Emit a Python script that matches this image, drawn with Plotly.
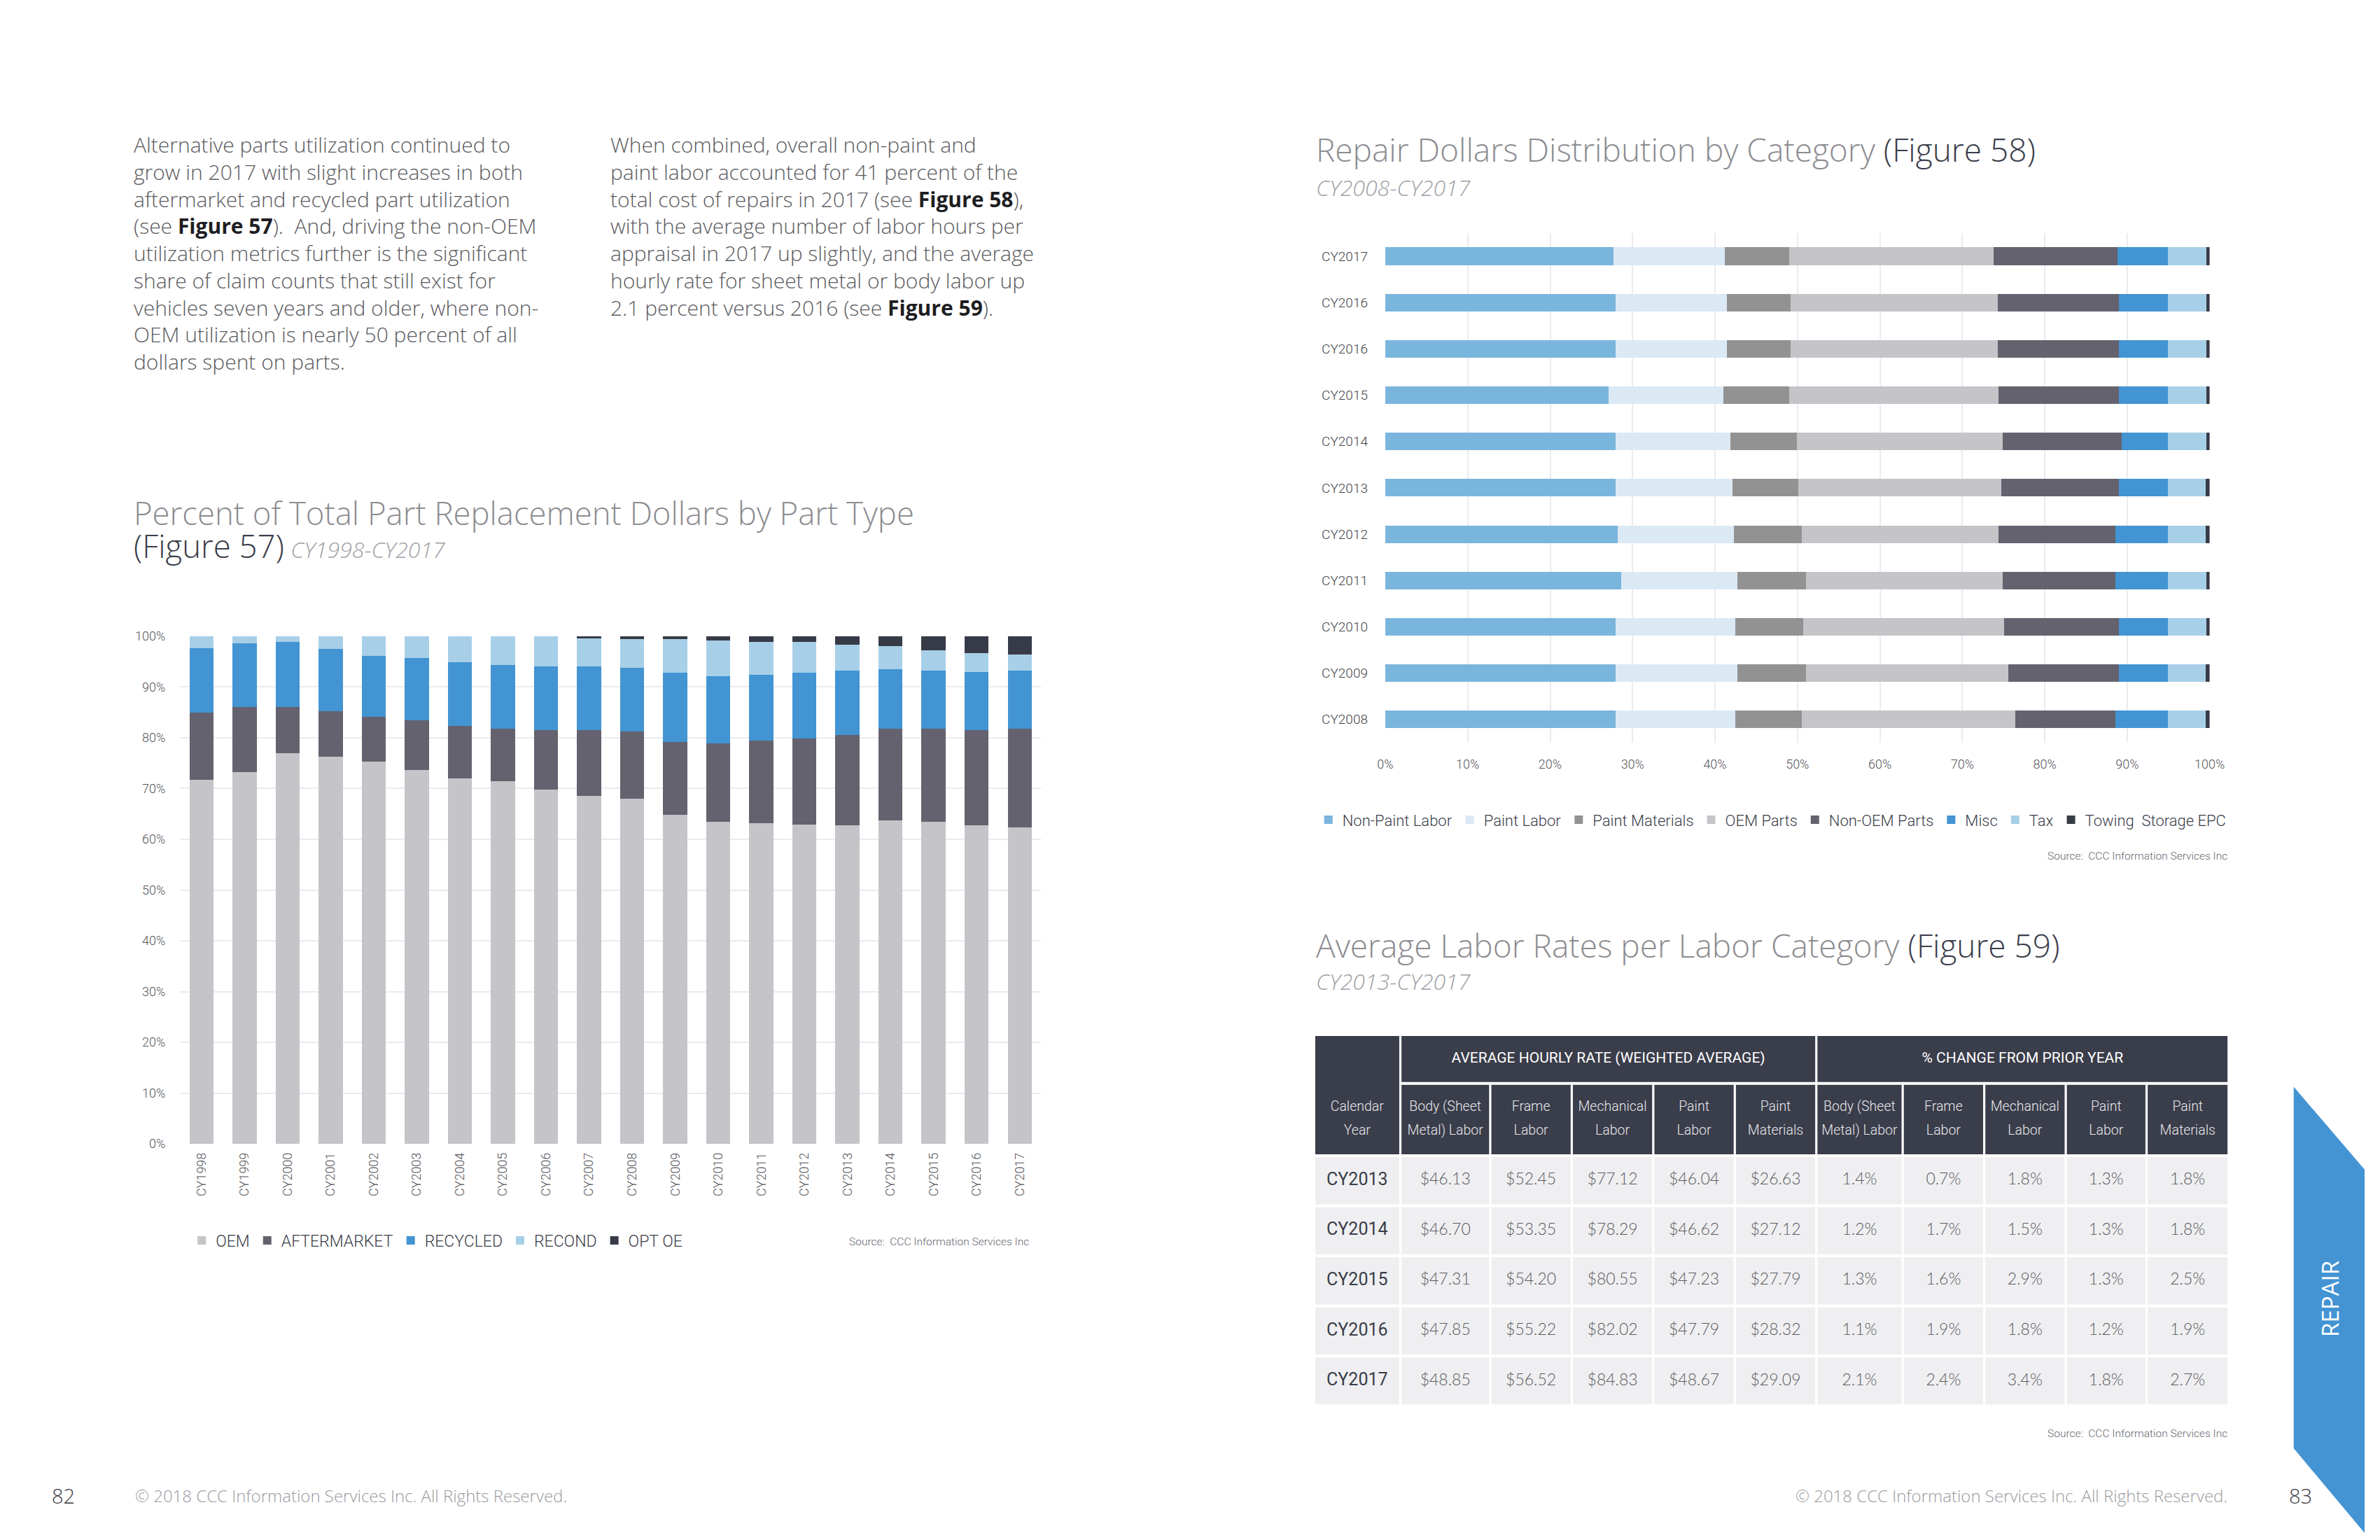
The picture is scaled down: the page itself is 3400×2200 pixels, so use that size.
import plotly.graph_objects as go

W, H = 3400, 2200
NARROW = "Roboto, Liberation Sans, sans-serif"
SANS = "Open Sans, Lato, sans-serif"
LATO = "Lato, Open Sans, sans-serif"
DARK = "#3a3d4a"

# ---------------- Figure 57 data ----------------
years57 = ["CY1998", "CY1999", "CY2000", "CY2001", "CY2002", "CY2003", "CY2004",
           "CY2005", "CY2006", "CY2007", "CY2008", "CY2009", "CY2010", "CY2011",
           "CY2012", "CY2013", "CY2014", "CY2015", "CY2016", "CY2017"]
oem = [71.7, 73.3, 77.0, 76.3, 75.3, 73.6, 72.0, 71.5, 69.8, 68.5,
       68.0, 64.8, 63.4, 63.2, 62.9, 62.7, 63.7, 63.4, 62.7, 62.4]
aftermarket = [13.3, 12.8, 9.1, 9.0, 8.9, 9.8, 10.4, 10.3, 11.7, 13.0,
               13.3, 14.4, 15.5, 16.3, 16.9, 17.8, 18.1, 18.4, 18.8, 19.4]
recycled = [12.7, 12.5, 12.8, 12.2, 12.0, 12.3, 12.5, 12.5, 12.6, 12.6,
            12.5, 13.6, 13.2, 12.9, 13.0, 12.7, 11.7, 11.4, 11.4, 11.4]
recond = [2.3, 1.4, 1.1, 2.5, 3.8, 4.3, 5.1, 5.7, 5.9, 5.5,
          5.6, 6.6, 7.0, 6.5, 6.1, 5.2, 4.6, 4.1, 3.8, 3.2]
opt_oe = [0, 0, 0, 0, 0, 0, 0, 0, 0, 0.4,
          0.6, 0.6, 0.9, 1.1, 1.1, 1.6, 1.9, 2.7, 3.3, 3.6]
parts57 = ["OEM", "AFTERMARKET", "RECYCLED", "RECOND", "OPT OE"]
colors57 = ["#c5c4c9", "#64626e", "#4294d2", "#a8cfe8", "#373b47"]
y57_ticks = [0, 10, 20, 30, 40, 50, 60, 70, 80, 90, 100]
y57_labels = ["0%", "10%", "20%", "30%", "40%", "50%", "60%", "70%", "80%", "90%", "100%"]

# ---------------- Figure 58 data ----------------
rows58 = ["CY2017", "CY2016", "CY2016", "CY2015", "CY2014", "CY2013",
          "CY2012", "CY2011", "CY2010", "CY2009", "CY2008"]
non_paint_labor = [27.7, 27.9, 27.9, 27.1, 27.9, 27.9, 28.2, 28.6, 27.9, 27.9, 27.9]
paint_labor = [13.5, 13.5, 13.5, 13.9, 14.0, 14.2, 14.1, 14.1, 14.6, 14.8, 14.6]
paint_materials = [7.8, 7.8, 7.8, 8.0, 8.0, 8.0, 8.2, 8.3, 8.2, 8.3, 8.0]
oem_parts = [24.8, 25.1, 25.1, 25.4, 25.0, 24.6, 23.9, 23.9, 24.4, 24.6, 25.9]
non_oem_parts = [15.0, 14.7, 14.7, 14.6, 14.4, 14.3, 14.2, 13.7, 13.9, 13.4, 12.2]
misc = [6.1, 5.9, 5.9, 5.9, 5.6, 5.9, 6.3, 6.3, 5.9, 5.9, 6.3]
tax = [4.7, 4.7, 4.7, 4.7, 4.7, 4.6, 4.6, 4.7, 4.7, 4.6, 4.6]
towing = [0.4, 0.4, 0.4, 0.4, 0.4, 0.5, 0.5, 0.4, 0.4, 0.5, 0.5]
cats58 = ["Non-Paint Labor", "Paint Labor", "Paint Materials", "OEM Parts",
          "Non-OEM Parts", "Misc", "Tax", "Towing  Storage EPC"]
colors58 = ["#7ab5dd", "#dbe9f5", "#929292", "#c5c4c9", "#64626e", "#4294d2", "#a8cfe8", "#373b47"]
x58_ticks = [0, 10, 20, 30, 40, 50, 60, 70, 80, 90, 100]
x58_labels = ["0%", "10%", "20%", "30%", "40%", "50%", "60%", "70%", "80%", "90%", "100%"]

# ---------------- Figure 59 data ----------------
years59 = ["CY2013", "CY2014", "CY2015", "CY2016", "CY2017"]
body_rate = [46.13, 46.70, 47.31, 47.85, 48.85]
frame_rate = [52.45, 53.35, 54.20, 55.22, 56.52]
mech_rate = [77.12, 78.29, 80.55, 82.02, 84.83]
paint_rate = [46.04, 46.62, 47.23, 47.79, 48.67]
paintmat_rate = [26.63, 27.12, 27.79, 28.32, 29.09]
body_chg = [1.4, 1.2, 1.3, 1.1, 2.1]
frame_chg = [0.7, 1.7, 1.6, 1.9, 2.4]
mech_chg = [1.8, 1.5, 2.9, 1.8, 3.4]
paint_chg = [1.3, 1.3, 1.3, 1.2, 1.8]
paintmat_chg = [1.8, 1.8, 2.5, 1.9, 2.7]
group_headers = ["AVERAGE HOURLY RATE (WEIGHTED AVERAGE)", "% CHANGE FROM PRIOR YEAR"]
col_head_1 = ["Calendar", "Body (Sheet", "Frame", "Mechanical", "Paint", "Paint",
              "Body (Sheet", "Frame", "Mechanical", "Paint", "Paint"]
col_head_2 = ["Year", "Metal) Labor", "Labor", "Labor", "Labor", "Materials",
              "Metal) Labor", "Labor", "Labor", "Labor", "Materials"]


# ---------------- page pixel -> paper (small correction for the photo framing) ----------------
def px(x):
    return (x - 10 * (1 - x / W)) / W


def py(y):
    return 1 - (y - 9 * (1 - 0.7 * y / H)) / H


fig = go.Figure()

for name, vals, col in zip(parts57, [oem, aftermarket, recycled, recond, opt_oe], colors57):
    fig.add_trace(go.Bar(x=years57, y=vals, name=name, width=0.56,
                         marker=dict(color=col, line=dict(width=0)),
                         xaxis="x", yaxis="y", legend="legend", hoverinfo="skip"))

idx58 = list(range(len(rows58)))
for name, vals, col in zip(cats58, [non_paint_labor, paint_labor, paint_materials, oem_parts,
                                    non_oem_parts, misc, tax, towing], colors58):
    fig.add_trace(go.Bar(x=vals, y=idx58, name=name, orientation="h", width=0.38,
                         marker=dict(color=col, line=dict(width=0)),
                         xaxis="x2", yaxis="y2", legend="legend2", hoverinfo="skip"))

# ---------------- Figure 59 table on its own axes ----------------
col_w = [121, 126, 114, 114, 114, 114, 121, 114, 114, 113, 115]
gap = 3.2
row_h = [66, 100, 68, 68, 68, 68, 68]
rgap = 4
col_l = []
acc = 0
for w in col_w:
    col_l.append(acc)
    acc += w + gap
tbl_w = acc - gap
row_t = []
acc = 0
for h in row_h:
    row_t.append(acc)
    acc += h + rgap
tbl_h = acc - rgap
col_c = [l + w / 2 for l, w in zip(col_l, col_w)]
row_c = [t + h / 2 for t, h in zip(row_t, row_h)]

shapes = []


def cell(x0, x1, y0, y1, color):
    shapes.append(dict(type="rect", xref="x3", yref="y3", x0=x0, x1=x1, y0=y0, y1=y1,
                       fillcolor=color, line=dict(width=0), layer="below"))


cell(col_l[0], col_l[0] + col_w[0], row_t[0], row_t[1] + row_h[1], DARK)
cell(col_l[1], col_l[5] + col_w[5], row_t[0], row_t[0] + row_h[0], DARK)
cell(col_l[6], col_l[10] + col_w[10], row_t[0], row_t[0] + row_h[0], DARK)
for c in range(1, 11):
    cell(col_l[c], col_l[c] + col_w[c], row_t[1], row_t[1] + row_h[1], DARK)
for r in range(2, 7):
    for c in range(11):
        cell(col_l[c], col_l[c] + col_w[c], row_t[r], row_t[r] + row_h[r], "#efeff1")

fig.add_trace(go.Scatter(
    x=[(col_l[1] + col_l[5] + col_w[5]) / 2, (col_l[6] + col_l[10] + col_w[10]) / 2],
    y=[row_c[0], row_c[0]], mode="text", text=group_headers,
    textfont=dict(family=NARROW, size=21, color="white"),
    xaxis="x3", yaxis="y3", showlegend=False, hoverinfo="skip"))
fig.add_trace(go.Scatter(x=col_c, y=[row_c[1] - 17] * 11, mode="text", text=col_head_1,
                         textfont=dict(family=NARROW, size=19.5, color="#e8e8ec", weight=300),
                         xaxis="x3", yaxis="y3", showlegend=False, hoverinfo="skip"))
fig.add_trace(go.Scatter(x=col_c, y=[row_c[1] + 17] * 11, mode="text", text=col_head_2,
                         textfont=dict(family=NARROW, size=19.5, color="#e8e8ec", weight=300),
                         xaxis="x3", yaxis="y3", showlegend=False, hoverinfo="skip"))
fig.add_trace(go.Scatter(x=[col_c[0]] * 5, y=row_c[2:], mode="text", text=years59,
                         textfont=dict(family=NARROW, size=25, color=DARK, weight=400),
                         xaxis="x3", yaxis="y3", showlegend=False, hoverinfo="skip"))
rate_cols = [body_rate, frame_rate, mech_rate, paint_rate, paintmat_rate]
chg_cols = [body_chg, frame_chg, mech_chg, paint_chg, paintmat_chg]
vx, vy, vt = [], [], []
for ci, vals in enumerate(rate_cols):
    for ri, v in enumerate(vals):
        vx.append(col_c[1 + ci]); vy.append(row_c[2 + ri]); vt.append(f"${v:.2f}")
for ci, vals in enumerate(chg_cols):
    for ri, v in enumerate(vals):
        vx.append(col_c[6 + ci]); vy.append(row_c[2 + ri]); vt.append(f"{v:.1f}%")
fig.add_trace(go.Scatter(x=vx, y=vy, mode="text", text=vt,
                         textfont=dict(family=LATO, size=23, color="#5a5a5e", weight=300),
                         xaxis="x3", yaxis="y3", showlegend=False, hoverinfo="skip"))

# blue side tab, running off the right and bottom page edges
shapes.append(dict(type="path", xref="paper", yref="paper",
                   path=f"M {px(3298)} {py(1561)} L 1 {py(1680)} L 1 0 "
                        f"L {px(3298)} {py(2081)} Z",
                   fillcolor="#4494d3", line=dict(width=0), layer="below"))

# ---------------- annotations ----------------
ann = []


def txt(x, y, text, size, color, family=SANS, weight=300, xanchor="left", angle=0):
    ann.append(dict(x=px(x), y=py(y), xref="paper", yref="paper", text=text, showarrow=False,
                    xanchor=xanchor, yanchor="middle", textangle=angle, borderpad=0,
                    align="left", font=dict(family=family, size=size, color=color, weight=weight)))


BODY = "#5a5a5e"
B = "<span style='color:#1e1e22'><b>{}</b></span>"
col1_lines = [
    "Alternative parts utilization continued to",
    "grow in 2017 with slight increases in both",
    "aftermarket and recycled part utilization",
    "(see " + B.format("Figure 57") + ").\u00a0 And, driving the non-OEM",
    "utilization metrics further is the significant",
    "share of claim counts that still exist for",
    "vehicles seven years and older, where non-",
    "OEM utilization is nearly 50 percent of all",
    "dollars spent on parts.",
]
col2_lines = [
    "When combined, overall non-paint and",
    "paint labor accounted for 41 percent of the",
    "total cost of repairs in 2017 (see " + B.format("Figure 58") + "),",
    "with the average number of labor hours per",
    "appraisal in 2017 up slightly, and the average",
    "hourly rate for sheet metal or body labor up",
    "2.1 percent versus 2016 (see " + B.format("Figure 59") + ").",
]
for i, line in enumerate(col1_lines):
    txt(189, 206 + 39 * i, line, 30, BODY)
for i, line in enumerate(col2_lines):
    txt(875, 206 + 39 * i, line, 30, BODY)

TITLE_G = "#8c8c91"
SUB = "<span style='font-size:32px;color:#a0a0a5'><i>{}</i></span>"
FIG = "<span style='color:#3a3d4a'>{}</span>"
BIG = "<span style='font-size:45.5px'>{}</span>"
# base size 36 gives the 47px line pitch of the two-line title
txt(189, 759, BIG.format("Percent of Total Part Replacement Dollars by Part Type") + "<br>"
    + BIG.format(FIG.format("(Figure 57)")) + " " + SUB.format("CY1998-CY2017"), 36, TITLE_G)
txt(1890, 212, "Repair Dollars Distribution by Category " + FIG.format("(Figure 58)"), 46, TITLE_G)
txt(1890, 267, SUB.format("CY2008-CY2017"), 32, TITLE_G)
txt(1890, 1357, "Average Labor Rates per Labor Category " + FIG.format("(Figure 59)"), 46, TITLE_G)
txt(1890, 1409, SUB.format("CY2013-CY2017"), 32, TITLE_G)

SRC = "Source:\u00a0 CCC Information Services Inc"
txt(1479, 1784, SRC, 15.5, "#666670", family=NARROW, weight=300, xanchor="right")
txt(3204, 1229, SRC, 15.5, "#666670", family=NARROW, weight=300, xanchor="right")
txt(3204, 2060, SRC, 15.5, "#666670", family=NARROW, weight=300, xanchor="right")

COPY = "\u00a9 2018 CCC Information Services Inc. All Rights Reserved."
txt(89, 2149, "82", 29, "#3a3a40", xanchor="center")
txt(191, 2149, COPY, 24, "#9a9a9f")
txt(3204, 2149, COPY, 24, "#9a9a9f", xanchor="right")
txt(3308, 2149, "83", 29, "#3a3a40", xanchor="center")
txt(3350, 1866, "REPAIR", 33, "white", weight=400, xanchor="center", angle=-90)

# ---------------- layout ----------------
TICK = dict(family=NARROW, size=18, color="#555559", weight=300)
fig.update_layout(
    width=W, height=H, margin=dict(l=0, r=0, t=0, b=0),
    paper_bgcolor="white", plot_bgcolor="white", barmode="stack",
    showlegend=True, shapes=shapes, annotations=ann,
    xaxis=dict(domain=[px(257), px(1496)], anchor="y", type="category",
               categoryorder="array", categoryarray=years57,
               tickangle=-90, tickfont=dict(family=NARROW, size=18, color="#555559", weight=300),
               showgrid=False, showline=False, ticks="", ticklabelstandoff=8, fixedrange=True),
    yaxis=dict(domain=[py(1643), py(913)], anchor="x", range=[0, 100],
               tickmode="array", tickvals=y57_ticks, ticktext=y57_labels, tickfont=TICK,
               showgrid=True, gridcolor="#ebebee", gridwidth=2, zeroline=False,
               showline=False, ticks="", ticklabelstandoff=20, fixedrange=True),
    xaxis2=dict(domain=[px(1991), px(3177)], anchor="y2", range=[0, 100],
                tickmode="array", tickvals=x58_ticks, ticktext=x58_labels, tickfont=TICK,
                showgrid=True, gridcolor="#ebebee", gridwidth=2, zeroline=False,
                showline=False, ticks="", ticklabelstandoff=18, fixedrange=True),
    yaxis2=dict(domain=[py(1066), py(333)], anchor="x2", range=[len(rows58) - 0.5, -0.5],
                tickmode="array", tickvals=idx58, ticktext=rows58,
                tickfont=dict(family=NARROW, size=19, color="#444448", weight=300),
                showgrid=False, zeroline=False, showline=False, ticks="",
                ticklabelstandoff=24, fixedrange=True),
    xaxis3=dict(domain=[px(1890), px(3203)], anchor="y3", range=[0, tbl_w], visible=False,
                fixedrange=True),
    yaxis3=dict(domain=[py(1488 + tbl_h), py(1488)], anchor="x3", range=[tbl_h, 0],
                visible=False, fixedrange=True),
    legend=dict(orientation="h", x=px(268), xanchor="left", y=py(1782), yanchor="middle",
                traceorder="normal", font=dict(family=NARROW, size=23, color=DARK, weight=300),
                bgcolor="rgba(0,0,0,0)", itemwidth=30, itemclick=False),
    legend2=dict(orientation="h", x=px(1889), xanchor="left", y=py(1177), yanchor="middle",
                 traceorder="normal", font=dict(family=NARROW, size=22, color=DARK, weight=300),
                 bgcolor="rgba(0,0,0,0)", itemwidth=30, itemclick=False),
)

fig.write_html("out.html", config={"displayModeBar": False},
               post_script="document.body.style.margin='0px';"
                           "document.documentElement.style.overflow='hidden';"
                           "document.body.style.overflow='hidden';")
